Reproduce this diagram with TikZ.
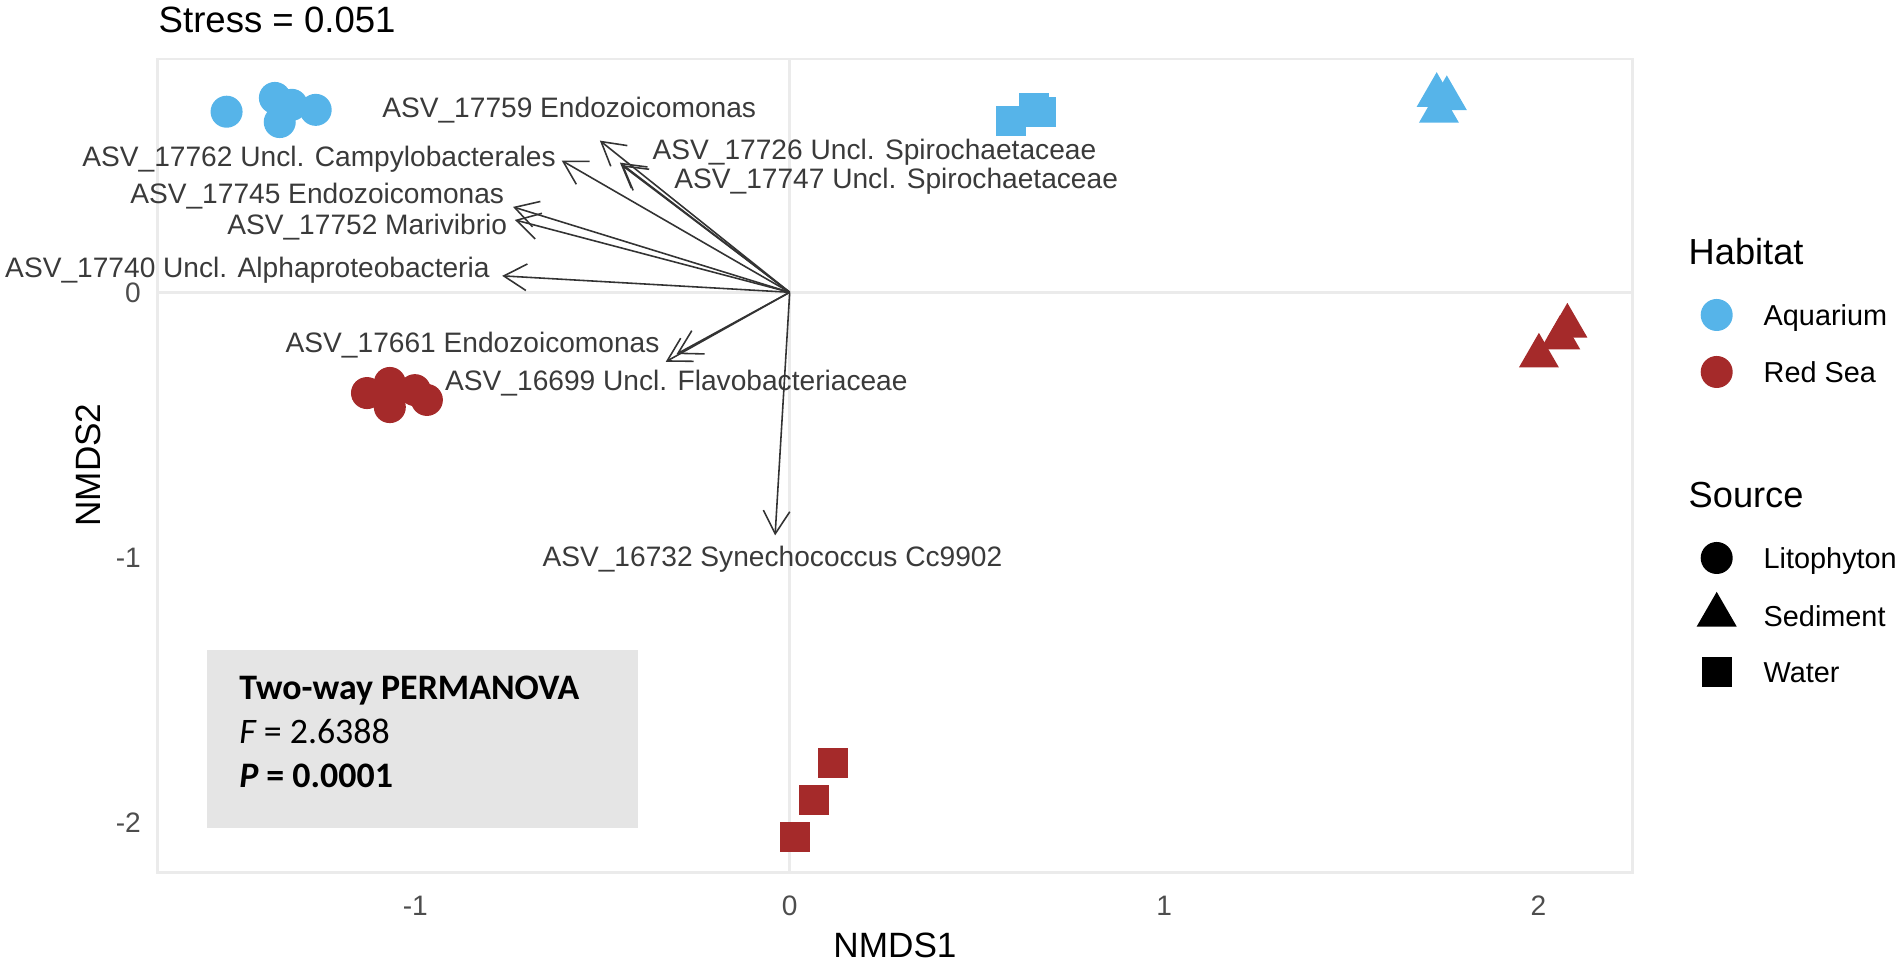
\documentclass[tikz,border=0pt]{standalone}
\usepackage{fontspec}
\setmainfont{Liberation Sans}
\newfontfamily\carlito{Carlito}
\usepackage{tikz}
\usetikzlibrary{shapes.geometric, arrows.meta}

\definecolor{aqblue}{HTML}{56B4E9}
\definecolor{rsred}{HTML}{A52A2A}
\definecolor{gridgray}{HTML}{EBEBEB}
\definecolor{boxgray}{HTML}{E5E5E5}
\definecolor{labgray}{HTML}{3A3A3A}
\definecolor{tickgray}{HTML}{4D4D4D}
\definecolor{vecgray}{HTML}{333333}

\begin{document}
\begin{tikzpicture}[x=0.01cm, y=-0.01cm,
    asv/.style={font=\fontsize{8}{9}\selectfont, text=labgray, inner sep=0pt, anchor=west, text height=5.7pt, text depth=0pt},
    tick/.style={font=\fontsize{8}{9}\selectfont, text=tickgray, inner sep=0pt, text height=5.7pt, text depth=0pt},
    leg/.style={font=\fontsize{8.2}{9.5}\selectfont, inner sep=0pt, anchor=west, text height=5.9pt, text depth=0pt},
    legtitle/.style={font=\fontsize{10.3}{12}\selectfont, inner sep=0pt, anchor=west, text height=7.4pt, text depth=0pt},
    perm/.style={font=\carlito\fontsize{10.2}{12}\selectfont, inner sep=0pt, anchor=west, text height=6.6pt, text depth=0pt},
    vec/.style={draw=vecgray, line width=0.45pt, -{Straight Barb[angle=60:2.65mm]}},
    dotc/.style={circle, inner sep=0pt, minimum size=3.2mm},
    dott/.style={regular polygon, regular polygon sides=3, inner sep=0pt, minimum size=4.62mm},
    dots/.style={rectangle, inner sep=0pt, minimum size=3mm},
    aq/.style={fill=aqblue}, rs/.style={fill=rsred},
    zeroline/.style={draw=gridgray, line width=0.75pt}]
    \useasboundingbox (0,0) rectangle (1902,965);

    % Title
    \node[font=\fontsize{10.4}{12}\selectfont, inner sep=0pt, anchor=west, text height=7.4pt, text depth=0pt] (stress) at (158,20) {Stress = 0.051};

    % Axis titles
    \node[font=\fontsize{10}{12}\selectfont, inner sep=0pt, text height=7.2pt, text depth=0pt] (xtitle) at (895,945) {NMDS1};
    \node[font=\fontsize{10}{12}\selectfont, inner sep=0pt, text height=7.2pt, text depth=0pt, rotate=90] (ytitle) at (88,465) {NMDS2};

    % Plot panel in NMDS units
    \begin{scope}[shift={(789.7,292.3)}, x=3.742cm, y=2.65cm]
        % Panel border and zero lines
        \draw[zeroline] (-1.688,0) -- (2.251,0);
        \draw[zeroline] (0,-2.188) -- (0,0.880);
        \draw[draw=gridgray, line width=0.75pt] (-1.688,-2.188) rectangle (2.251,0.880);

        % Tick labels
        \node[tick] (xm1) at (-1,-2.312) {-1};
        \node[tick] (x0) at (0,-2.312) {0};
        \node[tick] (x1) at (1,-2.312) {1};
        \node[tick] (x2) at (2,-2.312) {2};
        \node[tick, anchor=east] (y0) at (-1.731,0) {0};
        \node[tick, anchor=east] (ym1) at (-1.731,-1) {-1};
        \node[tick, anchor=east] (ym2) at (-1.731,-2) {-2};

        % PERMANOVA box
        \fill[boxgray] (-1.557,-2.022) rectangle (-0.405,-1.350);
        \node[perm] (permA) at (-1.472,-1.493) {\bfseries Two-way PERMANOVA};
        \node[perm] (permB) at (-1.472,-1.659) {\itshape F\upshape{} = 2.6388};
        \node[perm] (permC) at (-1.472,-1.822) {\bfseries\itshape P\upshape{} = 0.0001};

        % Aquarium samples
        \node[dotc, aq] (aqL1) at (-1.504,0.681) {};
        \node[dotc, aq] (aqL2) at (-1.375,0.733) {};
        \node[dotc, aq] (aqL3) at (-1.330,0.707) {};
        \node[dotc, aq] (aqL4) at (-1.362,0.642) {};
        \node[dotc, aq] (aqL5) at (-1.266,0.688) {};
        \node[dots, aq] (aqW1) at (0.591,0.646) {};
        \node[dots, aq] (aqW2) at (0.653,0.696) {};
        \node[dots, aq] (aqW3) at (0.672,0.680) {};
        \node[dott, aq] (aqS1) at (1.728,0.743) {};
        \node[dott, aq] (aqS2) at (1.755,0.731) {};
        \node[dott, aq] (aqS3) at (1.734,0.683) {};

        % Red Sea samples
        \node[dotc, rs] (rsL1) at (-1.129,-0.380) {};
        \node[dotc, rs] (rsL2) at (-1.068,-0.342) {};
        \node[dotc, rs] (rsL3) at (-1.068,-0.433) {};
        \node[dotc, rs] (rsL4) at (-1.001,-0.369) {};
        \node[dotc, rs] (rsL5) at (-0.969,-0.406) {};
        \node[dott, rs] (rsS1) at (2.077,-0.127) {};
        \node[dott, rs] (rsS2) at (2.058,-0.172) {};
        \node[dott, rs] (rsS3) at (2.001,-0.240) {};
        \node[dots, rs] (rsW1) at (0.115,-1.776) {};
        \node[dots, rs] (rsW2) at (0.065,-1.915) {};
        \node[dots, rs] (rsW3) at (0.013,-2.055) {};

        % ASV vectors
        \coordinate (o) at (0,0);
        \coordinate (t17759) at (-0.507,0.572);
        \coordinate (t17762) at (-0.609,0.497);
        \coordinate (t17726) at (-0.4535,0.489);
        \coordinate (t17747) at (-0.449,0.480);
        \coordinate (t17745) at (-0.739,0.322);
        \coordinate (t17752) at (-0.734,0.273);
        \coordinate (t17740) at (-0.768,0.062);
        \coordinate (t17661) at (-0.302,-0.233);
        \coordinate (t16699) at (-0.331,-0.262);
        \coordinate (t16732) at (-0.039,-0.917);

        \node[asv] (l17759) at (-1.090,0.697) {ASV\_17759 Endozoicomonas};
        \node[asv] (l17762) at (-1.891,0.514) {ASV\_17762 Uncl. Campylobacterales};
        \node[asv] (l17726) at (-0.368,0.540) {ASV\_17726 Uncl. Spirochaetaceae};
        \node[asv] (l17747) at (-0.310,0.428) {ASV\_17747 Uncl. Spirochaetaceae};
        \node[asv] (l17745) at (-1.763,0.371) {ASV\_17745 Endozoicomonas};
        \node[asv] (l17752) at (-1.504,0.254) {ASV\_17752 Marivibrio};
        \node[asv] (l17740) at (-2.097,0.095) {ASV\_17740 Uncl. Alphaproteobacteria};
        \node[asv] (l17661) at (-1.348,-0.191) {ASV\_17661 Endozoicomonas};
        \node[asv] (l16699) at (-0.922,-0.331) {ASV\_16699 Uncl. Flavobacteriaceae};
        \node[asv] (l16732) at (-0.662,-0.995) {ASV\_16732 Synechococcus Cc9902};

        \draw[vec] (o) -- (t17759);
        \draw[vec] (o) -- (t17762);
        \draw[vec] (o) -- (t17726);
        \draw[vec] (o) -- (t17747);
        \draw[vec] (o) -- (t17745);
        \draw[vec] (o) -- (t17752);
        \draw[vec] (o) -- (t17740);
        \draw[vec] (o) -- (t17661);
        \draw[vec] (o) -- (t16699);
        \draw[vec] (o) -- (t16732);
    \end{scope}

    % Legend: Habitat
    \node[legtitle] (habitat) at (1688,252) {Habitat};
    \node[dotc, aq] (kAq) at (1716.7,315) {};
    \node[leg] (kAqT) at (1763,315) {Aquarium};
    \node[dotc, rs] (kRs) at (1716.7,372) {};
    \node[leg] (kRsT) at (1763,372) {Red Sea};

    % Legend: Source
    \node[legtitle] (source) at (1688,495) {Source};
    \node[dotc, fill=black] (kL) at (1716.7,558) {};
    \node[leg] (kLT) at (1763,558) {Litophyton};
    \node[dott, fill=black] (kS) at (1716.7,615) {};
    \node[leg] (kST) at (1763,616) {Sediment};
    \node[dots, fill=black] (kW) at (1716.7,672) {};
    \node[leg] (kWT) at (1763,672) {Water};
\end{tikzpicture}
\end{document}
